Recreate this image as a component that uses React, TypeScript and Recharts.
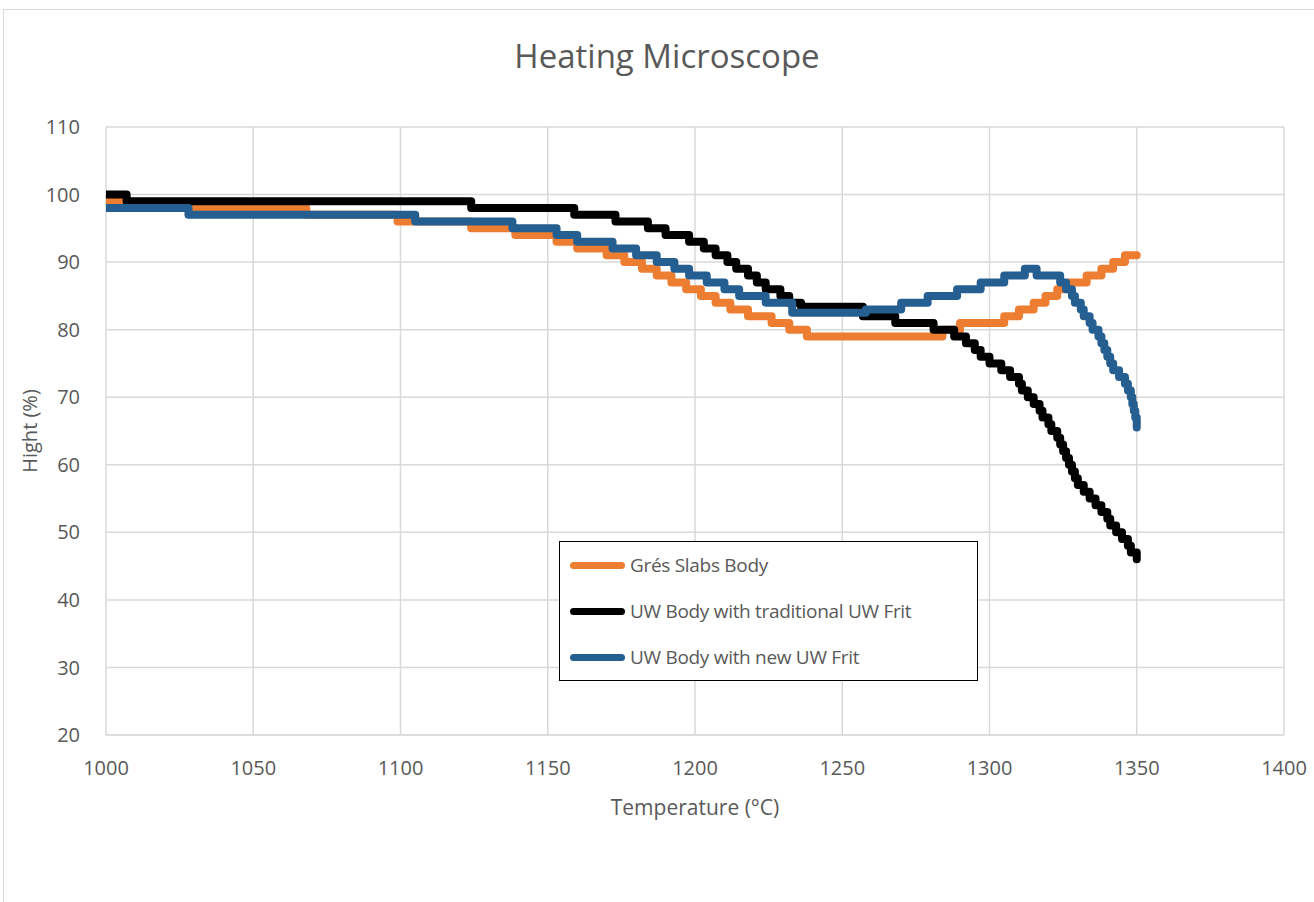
import React from 'react';
import { LineChart, Line, XAxis, YAxis, CartesianGrid, Legend, Label } from 'recharts';

const gresTemps = [1000, 1005, 1068, 1099, 1124, 1139, 1153, 1160, 1170, 1176, 1182, 1187, 1192, 1197, 1202, 1207, 1212, 1218, 1226, 1232, 1238, 1284, 1290, 1305, 1310, 1315, 1319, 1323, 1327, 1333, 1338, 1342, 1346, 1350];
const gresValues = [99, 98, 97, 96, 95, 94, 93, 92, 91, 90, 89, 88, 87, 86, 85, 84, 83, 82, 81, 80, 79, 80, 81, 82, 83, 84, 85, 86, 87, 88, 89, 90, 91, 91];

const tradTemps = [1000, 1007, 1124, 1159, 1173, 1184, 1190, 1198, 1203, 1207, 1211, 1214, 1218, 1221, 1224, 1229, 1232, 1236, 1257, 1268, 1281, 1288, 1292, 1295, 1297, 1300, 1304, 1307, 1310, 1311, 1313, 1315, 1317, 1318, 1320, 1321, 1323, 1324, 1325, 1326, 1327, 1328, 1329, 1330, 1332, 1334, 1336, 1338, 1340, 1341, 1343, 1345, 1347, 1348, 1350];
const tradValues = [100, 99, 98, 97, 96, 95, 94, 93, 92, 91, 90, 89, 88, 87, 86, 85, 84, 83.4, 82, 81, 80, 79, 78, 77, 76, 75, 74, 73, 72, 71, 70, 69, 68, 67, 66, 65, 64, 63, 62, 61, 60, 59, 58, 57, 56, 55, 54, 53, 52, 51, 50, 49, 48, 47, 46];

const newTemps = [1000, 1028, 1105, 1138, 1153, 1160, 1172, 1180, 1187, 1193, 1198, 1204, 1210, 1215, 1224, 1233, 1258, 1270, 1279, 1289, 1297, 1305, 1312, 1316, 1324, 1326, 1328, 1329, 1331, 1332, 1334, 1335, 1337, 1338, 1339, 1340, 1341, 1342, 1344, 1346, 1347, 1348, 1348.5, 1349, 1349.5, 1350];
const newValues = [98, 97, 96, 95, 94, 93, 92, 91, 90, 89, 88, 87, 86, 85, 84, 82.5, 83, 84, 85, 86, 87, 88, 89, 88, 87, 86, 85, 84, 83, 82, 81, 80, 79, 78, 77, 76, 75, 74, 73, 72, 71, 70, 69, 68, 67, 65.5];

const xTicks = [1000, 1050, 1100, 1150, 1200, 1250, 1300, 1350, 1400];
const yTicks = [20, 30, 40, 50, 60, 70, 80, 90, 100, 110];

const toPoints = (temps: number[], values: number[]) =>
  temps.map((t, i) => ({ t, v: values[i] }));

const series = [
  { name: 'Grés Slabs Body', color: '#ED7D31', data: toPoints(gresTemps, gresValues) },
  { name: 'UW Body with traditional UW Frit', color: '#000000', data: toPoints(tradTemps, tradValues) },
  { name: 'UW Body with new UW Frit', color: '#255E91', data: toPoints(newTemps, newValues) },
];

const font = '"Open Sans", sans-serif';
const textColor = '#595959';

// legend drawn in series order (recharts sorts payload by name otherwise)
const LegendBox = () => (
  <div
    style={{
      border: '1.5px solid #000',
      background: '#fff',
      width: 419,
      height: 140,
      boxSizing: 'border-box',
      fontFamily: font,
      fontSize: 19,
      color: textColor,
    }}
  >
    {series.map((s) => (
      <div key={s.name} style={{ display: 'flex', alignItems: 'center', height: 46 }}>
        <div style={{ width: 55, height: 7, borderRadius: 4, background: s.color, marginLeft: 10, marginRight: 5 }} />
        <span style={{ letterSpacing: -0.3 }}>{s.name}</span>
      </div>
    ))}
  </div>
);

export default function App() {
  return (
    <div style={{ position: 'absolute', left: 0, top: 0, width: 1314, height: 902, background: '#fff' }}>
      <div style={{ position: 'absolute', left: 3, top: 9, right: 0, bottom: 0, borderTop: '1px solid #d9d9d9', borderLeft: '1px solid #d9d9d9' }} />
      <div
        style={{
          position: 'absolute',
          top: 33,
          left: 0,
          width: 1334,
          textAlign: 'center',
          fontFamily: font,
          fontSize: 33,
          color: textColor,
        }}
      >
        Heating Microscope
      </div>
      <LineChart
        width={1314}
        height={902}
        margin={{ top: 127, right: 30, bottom: 127, left: 46 }}
        style={{ position: 'absolute', left: 0, top: 0 }}
      >
        <CartesianGrid stroke="#d9d9d9" strokeWidth={1.5} />
        <XAxis
          dataKey="t"
          type="number"
          domain={[1000, 1400]}
          ticks={xTicks}
          allowDataOverflow
          height={40}
          tickSize={0}
          tickMargin={26}
          axisLine={{ stroke: '#d9d9d9' }}
          tick={{ fill: textColor, fontFamily: font, fontSize: 20 }}
        >
          <Label
            value="Temperature  (°C)"
            position="bottom"
            offset={25}
            style={{ fill: textColor, fontFamily: font, fontSize: 21 }}
          />
        </XAxis>
        <YAxis
          type="number"
          domain={[20, 110]}
          ticks={yTicks}
          width={60}
          tickSize={0}
          tickMargin={26}
          axisLine={false}
          tick={{ fill: textColor, fontFamily: font, fontSize: 20 }}
        >
          <Label
            value="Hight (%)"
            angle={-90}
            position="insideLeft"
            offset={-16}
            style={{ fill: textColor, fontFamily: font, fontSize: 20, textAnchor: 'middle' }}
          />
        </YAxis>
        <Legend
          layout="vertical"
          align="center"
          verticalAlign="middle"
          content={<LegendBox />}
          wrapperStyle={{ position: 'absolute', left: 559, top: 541, width: 419, height: 140 }}
        />
        {series.map((s) => (
          <Line
            key={s.name}
            name={s.name}
            data={s.data}
            dataKey="v"
            type="stepAfter"
            stroke={s.color}
            strokeWidth={8}
            strokeLinejoin="round"
            strokeLinecap="round"
            dot={false}
            isAnimationActive={false}
          />
        ))}
      </LineChart>
    </div>
  );
}
